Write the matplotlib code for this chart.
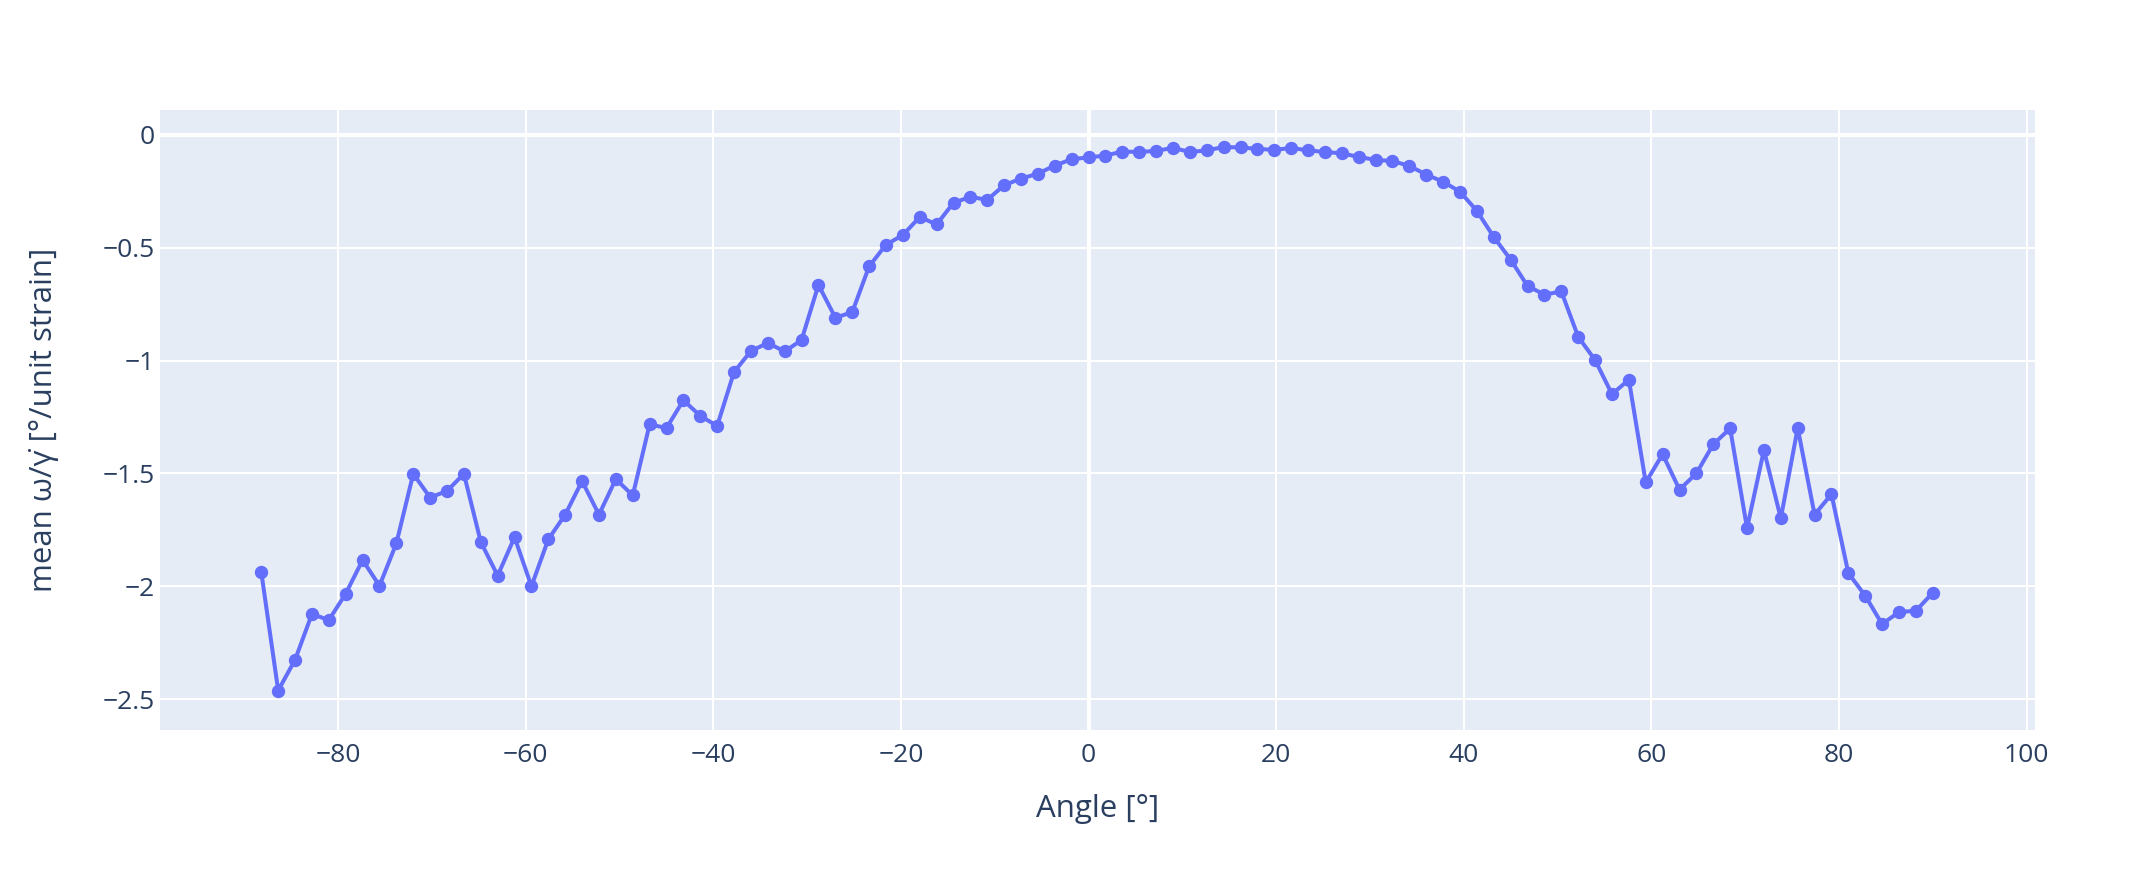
import matplotlib.pyplot as plt
from matplotlib.ticker import FuncFormatter, MultipleLocator

# angle bins (deg)
angles = [-88.2, -86.4, -84.6, -82.8, -81.0, -79.2, -77.4, -75.6, -73.8, -72.0,
          -70.2, -68.4, -66.6, -64.8, -63.0, -61.2, -59.4, -57.6, -55.8, -54.0,
          -52.2, -50.4, -48.6, -46.8, -45.0, -43.2, -41.4, -39.6, -37.8, -36.0,
          -34.2, -32.4, -30.6, -28.8, -27.0, -25.2, -23.4, -21.6, -19.8, -18.0,
          -16.2, -14.4, -12.6, -10.8, -9.0, -7.2, -5.4, -3.6, -1.8, 0.0,
          1.8, 3.6, 5.4, 7.2, 9.0, 10.8, 12.6, 14.4, 16.2, 18.0,
          19.8, 21.6, 23.4, 25.2, 27.0, 28.8, 30.6, 32.4, 34.2, 36.0,
          37.8, 39.6, 41.4, 43.2, 45.0, 46.8, 48.6, 50.4, 52.2, 54.0,
          55.8, 57.6, 59.4, 61.2, 63.0, 64.8, 66.6, 68.4, 70.2, 72.0,
          73.8, 75.6, 77.4, 79.2, 81.0, 82.8, 84.6, 86.4, 88.2, 90.0]

# mean rotation rate per unit strain
mean_rate = [-1.938, -2.462, -2.326, -2.123, -2.150, -2.033, -1.884, -1.998, -1.810, -1.502,
             -1.607, -1.578, -1.502, -1.804, -1.953, -1.783, -2.000, -1.792, -1.683, -1.534,
             -1.683, -1.525, -1.598, -1.283, -1.299, -1.176, -1.245, -1.290, -1.051, -0.958,
             -0.922, -0.960, -0.909, -0.665, -0.810, -0.786, -0.583, -0.487, -0.444, -0.364,
             -0.397, -0.301, -0.275, -0.288, -0.223, -0.194, -0.172, -0.136, -0.108, -0.100,
             -0.092, -0.074, -0.076, -0.071, -0.058, -0.076, -0.069, -0.054, -0.056, -0.062,
             -0.067, -0.058, -0.069, -0.076, -0.082, -0.098, -0.111, -0.116, -0.138, -0.176,
             -0.208, -0.252, -0.337, -0.453, -0.553, -0.670, -0.708, -0.694, -0.895, -0.998,
             -1.149, -1.085, -1.540, -1.415, -1.572, -1.500, -1.371, -1.301, -1.743, -1.397,
             -1.699, -1.299, -1.683, -1.592, -1.942, -2.042, -2.168, -2.114, -2.109, -2.029]

plt.rcParams['font.family'] = ['Open Sans', 'DejaVu Sans']
txt = '#2a3f5f'

fig = plt.figure(figsize=(21.4, 8.74), dpi=100)
ax = fig.add_axes([160/2140, 144/874, 1875/2140, 620/874])
ax.set_facecolor('#E5ECF6')

ax.plot(angles, mean_rate, '-o', color='#636efa', lw=2.9, ms=8.6, zorder=3)

ax.set_xlim(-99, 100.9)
ax.set_ylim(-2.637, 0.11)
ax.xaxis.set_major_locator(MultipleLocator(20))
ax.yaxis.set_major_locator(MultipleLocator(0.5))
fmt = FuncFormatter(lambda v, p: ('%g' % round(v, 6)).replace('-', '\u2212'))
ax.xaxis.set_major_formatter(fmt)
ax.yaxis.set_major_formatter(fmt)

ax.grid(True, color='white', lw=1.44, zorder=1)
ax.axhline(0, color='white', lw=2.9, zorder=2)
ax.axvline(0, color='white', lw=2.9, zorder=2)
for s in ax.spines.values():
    s.set_visible(False)
ax.tick_params(length=0, labelsize=19, labelcolor=txt)
ax.tick_params(axis='y', pad=4)
ax.tick_params(axis='x', pad=9)

ax.set_xlabel('Angle [°]', fontsize=22.5, color=txt, va='center')
ax.set_ylabel('mean ω/γ\u0307 [°/unit strain]', fontsize=22.5, color=txt, va='center')
ax.xaxis.set_label_coords(0.5, (730 - 809) / 620)
ax.yaxis.set_label_coords((43.7 - 160) / 1875, 0.5)

fig.savefig('out.png', dpi=100)
